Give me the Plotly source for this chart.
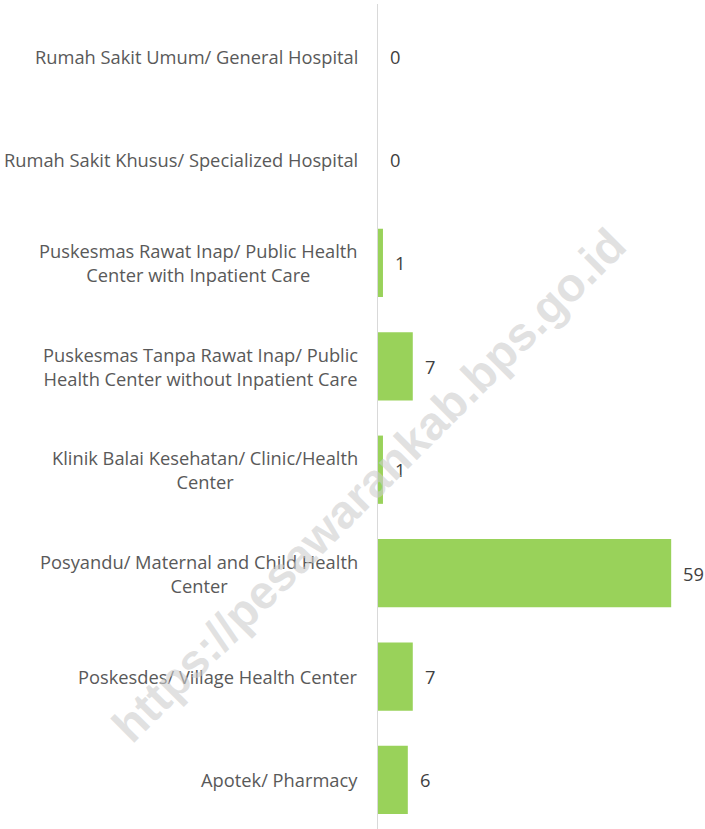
import plotly.graph_objects as go

categories = [
    "Rumah Sakit Umum/ General Hospital",
    "Rumah Sakit Khusus/ Specialized Hospital",
    "Puskesmas Rawat Inap/ Public Health<br>Center with Inpatient Care",
    "Puskesmas Tanpa Rawat Inap/ Public<br>Health Center without Inpatient Care",
    "Klinik Balai Kesehatan/ Clinic/Health<br>Center",
    "Posyandu/ Maternal and Child Health<br>Center",
    "Poskesdes/ Village Health Center",
    "Apotek/ Pharmacy",
]
values = [0, 0, 1, 7, 1, 59, 7, 6]
watermark = "https://pesawarankab.bps.go.id"

FONT = "Open Sans"
GRAY = "#595959"
LABEL_SIZE = 18.3

idx = list(range(len(categories)))

fig = go.Figure()
fig.add_trace(go.Bar(
    x=values, y=idx, orientation="h", width=0.66,
    marker=dict(color="#99D25A", line=dict(width=0)),
    hoverinfo="skip",
))

annotations = []
for i, (cat, v) in enumerate(zip(categories, values)):
    annotations.append(dict(
        x=0, y=i, xref="x", yref="y", text=cat, showarrow=False,
        xanchor="right", yanchor="middle", align="center", xshift=-18,
        font=dict(family=FONT, size=LABEL_SIZE, color=GRAY),
    ))
    annotations.append(dict(
        x=v, y=i, xref="x", yref="y", text=str(v), showarrow=False,
        xanchor="left", yanchor="middle", xshift=10,
        font=dict(family=FONT, size=LABEL_SIZE, color="#404040"),
    ))

annotations.append(dict(
    x=-0.028, y=0.418, xref="paper", yref="paper",
    xanchor="center", yanchor="middle",
    text="<b>" + watermark + "</b>", showarrow=False, textangle=-45,
    font=dict(family="Liberation Sans", size=47, color="rgba(205,205,205,0.6)"),
))

fig.update_layout(
    width=705, height=829,
    margin=dict(l=378, r=5, t=4, b=0),
    paper_bgcolor="white", plot_bgcolor="white",
    showlegend=False,
    xaxis=dict(range=[0, 64.8], visible=False, fixedrange=True),
    yaxis=dict(range=[7.474, -0.503], showticklabels=False, showgrid=False,
               zeroline=False, showline=True, linecolor="#D9D9D9", linewidth=1,
               ticks="", fixedrange=True),
    annotations=annotations,
)

fig.write_html("out.html", config={"displayModeBar": False})
with open("out.html", encoding="utf-8") as f:
    html = f.read()
html = html.replace("<body>", '<body style="margin:0;overflow:hidden">', 1)
with open("out.html", "w", encoding="utf-8") as f:
    f.write(html)
